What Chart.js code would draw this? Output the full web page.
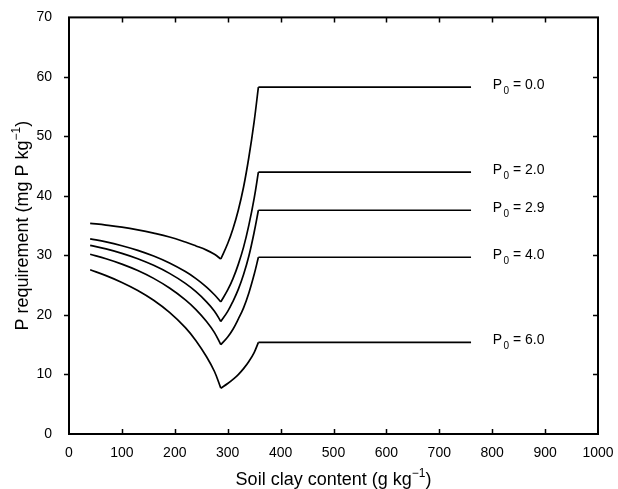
<!DOCTYPE html>
<html>
<head>
<meta charset="utf-8">
<script src="https://cdn.jsdelivr.net/npm/chart.js@4.4.1/dist/chart.umd.min.js"></script>
<style>
  html, body { margin: 0; padding: 0; background: #fff; }
  #wrap { width: 618px; height: 489px; }
</style>
</head>
<body>
<div id="wrap"><canvas id="c" width="618" height="489"></canvas></div>
<script>
// Soil clay content (g/kg) sample positions
const clayDown = [40, 70, 100, 130, 160, 190, 220, 240, 260, 275, 287];
const clayUp   = [287, 300, 310, 320, 330, 340, 350, 358];
const clayFlat = [358, 760];

// P0 labels
const p0Labels = ['0.0', '2.0', '2.9', '4.0', '6.0'];

// P requirement (mg P/kg), decreasing branch
const down00 = [35.4, 35.1, 34.75, 34.3, 33.75, 33.1, 32.25, 31.6, 30.9, 30.2, 29.4];
const down20 = [32.8, 32.29, 31.64, 30.86, 29.9, 28.73, 27.29, 26.11, 24.69, 23.4, 22.2];
const down29 = [31.7, 31.1, 30.35, 29.45, 28.34, 26.99, 25.31, 23.91, 22.21, 20.64, 18.9];
const down40 = [30.2, 29.45, 28.55, 27.47, 26.15, 24.53, 22.55, 20.91, 18.91, 17.04, 15.0];
const down60 = [27.6, 26.61, 25.47, 24.12, 22.47, 20.43, 17.88, 15.68, 12.98, 10.5, 7.7];

// rising branch
const up00 = [29.4, 32.0, 34.5, 37.6, 41.5, 46.5, 52.5, 58.3];
const up20 = [22.2, 24.2, 26.1, 28.5, 31.4, 35.1, 39.6, 44.0];
const up29 = [18.9, 20.6, 22.3, 24.3, 26.8, 29.9, 33.9, 37.6];
const up40 = [15.0, 16.3, 17.6, 19.3, 21.2, 23.7, 26.8, 29.7];
const up60 = [7.7, 8.48, 9.18, 9.98, 10.98, 12.18, 13.68, 15.4];

// plateau
const flatVals = [58.3, 44.0, 37.6, 29.7, 15.4];

// axis ticks
const xTicks = [0, 100, 200, 300, 400, 500, 600, 700, 800, 900, 1000];
const yTicks = [0, 10, 20, 30, 40, 50, 60, 70];

const downs = [down00, down20, down29, down40, down60];
const ups = [up00, up20, up29, up40, up60];

function pts(xs, ys) { return xs.map((x, i) => ({ x: x, y: ys[i] })); }

const datasets = [];
p0Labels.forEach((lab, k) => {
  const common = {
    borderColor: '#000', borderWidth: 1.7, pointRadius: 0, fill: false,
    tension: 0.4, label: 'P0 = ' + lab
  };
  datasets.push(Object.assign({}, common, { data: pts(clayDown, downs[k]) }));
  datasets.push(Object.assign({}, common, { data: pts(clayUp, ups[k]) }));
  datasets.push(Object.assign({}, common, { tension: 0, data: pts(clayFlat, [flatVals[k], flatVals[k]]) }));
});

const FONT = '"Liberation Sans", Arial, Helvetica, sans-serif';

const framePlugin = {
  id: 'frame',
  afterDraw(chart) {
    const ctx = chart.ctx;
    const a = chart.chartArea;
    const xs = chart.scales.x, ys = chart.scales.y;
    ctx.save();
    ctx.strokeStyle = '#000';
    ctx.lineWidth = 2;
    ctx.strokeRect(a.left, a.top, a.right - a.left, a.bottom - a.top);
    ctx.lineWidth = 1.5;
    const tl = 5;
    ctx.beginPath();
    xTicks.slice(1, -1).forEach(v => {
      const px = Math.round(xs.getPixelForValue(v)) + 0.5;
      ctx.moveTo(px, a.bottom); ctx.lineTo(px, a.bottom - tl);
      ctx.moveTo(px, a.top); ctx.lineTo(px, a.top + tl);
    });
    yTicks.slice(1, -1).forEach(v => {
      const py = Math.round(ys.getPixelForValue(v)) + 0.5;
      ctx.moveTo(a.left, py); ctx.lineTo(a.left - tl, py);
      ctx.moveTo(a.right, py); ctx.lineTo(a.right - tl, py);
    });
    ctx.stroke();

    // series labels
    ctx.fillStyle = '#000';
    ctx.textBaseline = 'middle';
    ctx.textAlign = 'left';
    p0Labels.forEach((lab, k) => {
      const x0 = xs.getPixelForValue(801);
      const y0 = ys.getPixelForValue(flatVals[k]) - 2;
      ctx.font = '14px ' + FONT;
      ctx.fillText('P', x0, y0);
      let w = ctx.measureText('P').width;
      ctx.font = '10px ' + FONT;
      ctx.fillText('0', x0 + w + 1.5, y0 + 6);
      let w2 = ctx.measureText('0').width;
      ctx.font = '14px ' + FONT;
      ctx.fillText(' = ' + lab, x0 + w + w2 + 1.5, y0);
    });

    // axis titles with superscripts
    function drawSup(parts, cx, cy) {
      ctx.font = '18px ' + FONT;
      const w1 = ctx.measureText(parts[0]).width;
      const w3 = ctx.measureText(parts[2]).width;
      ctx.font = '12px ' + FONT;
      const w2 = ctx.measureText(parts[1]).width;
      const total = w1 + w2 + w3;
      let x = cx - total / 2;
      ctx.textAlign = 'left';
      ctx.textBaseline = 'alphabetic';
      ctx.font = '18px ' + FONT;
      ctx.fillText(parts[0], x, cy);
      ctx.font = '12px ' + FONT;
      ctx.fillText(parts[1], x + w1, cy - 8);
      ctx.font = '18px ' + FONT;
      ctx.fillText(parts[2], x + w1 + w2, cy);
    }
    drawSup(['Soil clay content (g kg', '\u22121', ')'], (a.left + a.right) / 2, 485);
    ctx.save();
    ctx.translate(27.5, (a.top + a.bottom) / 2);
    ctx.rotate(-Math.PI / 2);
    drawSup(['P requirement (mg P kg', '\u22121', ')'], 0, 0);
    ctx.restore();
    ctx.restore();
  }
};

new Chart(document.getElementById('c'), {
  type: 'line',
  data: { datasets: datasets },
  options: {
    responsive: false,
    animation: false,
    devicePixelRatio: 1,
    layout: { padding: { left: 0, right: 20, top: 17, bottom: 0 } },
    plugins: { legend: { display: false }, tooltip: { enabled: false }, title: { display: false } },
    scales: {
      x: {
        type: 'linear', min: 0, max: 1000,
        afterFit: s => { s.height = 55; },
        afterBuildTicks: s => { s.ticks = xTicks.map(v => ({ value: v })); },
        grid: { display: false }, border: { display: false },
        ticks: { color: '#000', padding: 3, maxRotation: 0, autoSkip: false,
                 callback: v => String(v), font: { family: FONT, size: 14 } }
      },
      y: {
        type: 'linear', min: 0, max: 70,
        afterFit: s => { s.width = 69; },
        afterBuildTicks: s => { s.ticks = yTicks.map(v => ({ value: v })); },
        grid: { display: false }, border: { display: false },
        ticks: { color: '#000', padding: 9, autoSkip: false,
                 callback: v => String(v), font: { family: FONT, size: 14 } }
      }
    }
  },
  plugins: [framePlugin]
});
</script>
</body>
</html>
